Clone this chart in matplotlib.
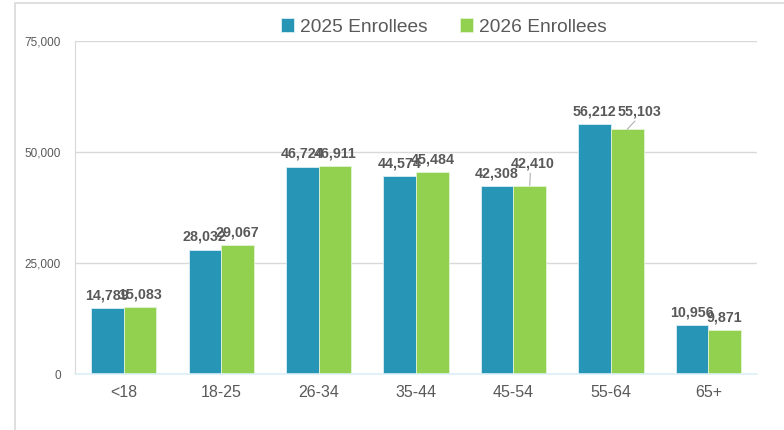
import matplotlib.pyplot as plt
import numpy as np
from matplotlib.patches import Rectangle

plt.rcParams['font.family'] = ['Liberation Sans', 'DejaVu Sans']

age_groups = ['<18', '18-25', '26-34', '35-44', '45-54', '55-64', '65+']
enrollees_2025 = [14789, 28032, 46724, 44574, 42308, 56212, 10956]
enrollees_2026 = [15083, 29067, 46911, 45484, 42410, 55103, 9871]
y_ticks = [0, 25000, 50000, 75000]

blue = '#2795b5'
green = '#92d050'
text_gray = '#595959'

fig = plt.figure(figsize=(7.84, 4.30), dpi=100)
ax = fig.add_axes([0.0957, 0.1302, 0.8699, 0.7745])

# light frame around the whole chart
fig.patches.append(Rectangle((15 / 784, -0.05), 1.0, 1 - 3 / 430 + 0.05,
                             transform=fig.transFigure, fill=False,
                             edgecolor='#d9d9d9', linewidth=1.2))

x = np.arange(len(age_groups))
w = 0.335
b1 = ax.bar(x - w / 2, enrollees_2025, w, color=blue, label='2025 Enrollees',
            edgecolor='#dbeef4', linewidth=0.6)
b2 = ax.bar(x + w / 2, enrollees_2026, w, color=green, label='2026 Enrollees',
            edgecolor='#e4f2d4', linewidth=0.6)

# data labels (some nudged like the original)
offsets_2026 = {4: (2, 7), 5: (9, 4)}
for i, v in enumerate(enrollees_2025):
    ax.annotate(f'{v:,}', (x[i] - w / 2, v), xytext=(0, 4),
                textcoords='offset points', ha='center', va='bottom',
                fontsize=10.3, fontweight='bold', color=text_gray)
for i, v in enumerate(enrollees_2026):
    dx, dy = offsets_2026.get(i, (0, 0))
    if dy > 0:
        ax.annotate(f'{v:,}', (x[i] + w / 2, v), xytext=(dx, 4 + dy),
                    textcoords='offset points', ha='center', va='bottom',
                    fontsize=10.3, fontweight='bold', color=text_gray,
                    arrowprops=dict(arrowstyle='-', color='#a6a6a6', lw=0.7,
                                    shrinkA=0, shrinkB=0,
                                    relpos=(0.45, 0)))
    else:
        ax.annotate(f'{v:,}', (x[i] + w / 2, v), xytext=(dx, 4),
                    textcoords='offset points', ha='center', va='bottom',
                    fontsize=10.3, fontweight='bold', color=text_gray)

ax.set_xlim(-0.5, len(age_groups) - 0.5)
ax.set_ylim(0, 75000)
ax.set_yticks(y_ticks)
ax.set_yticklabels([f'{t:,}' for t in y_ticks])
ax.set_xticks(x)
ax.set_xticklabels(age_groups)
ax.tick_params(axis='y', length=0, labelsize=8.5, labelcolor=text_gray, pad=10)
ax.tick_params(axis='x', length=0, labelsize=11.5, labelcolor=text_gray, pad=8)

ax.grid(axis='y', color='#d9d9d9', linewidth=1)
ax.set_axisbelow(True)
for s in ['top', 'right']:
    ax.spines[s].set_visible(False)
ax.spines['left'].set_color('#d9d9d9')
ax.spines['bottom'].set_color('#ddf0f8')
ax.spines['bottom'].set_linewidth(1.2)

leg = fig.legend(handles=[b1, b2], loc='center', bbox_to_anchor=(0.566, 1 - 27 / 430),
                 ncol=2, frameon=False, fontsize=13.8, handlelength=0.7,
                 handleheight=0.7, handletextpad=0.3, columnspacing=1.7)
for t in leg.get_texts():
    t.set_color(text_gray)

fig.savefig('out.png', dpi=100)
